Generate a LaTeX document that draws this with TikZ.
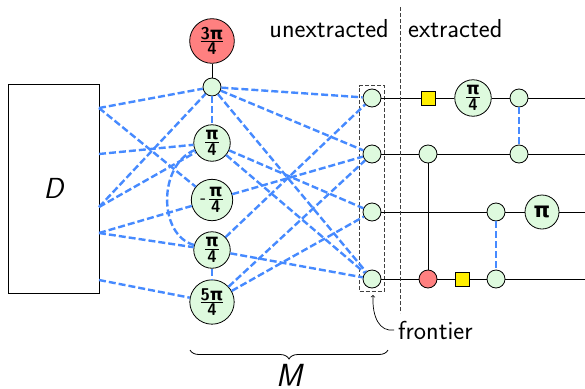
\documentclass[tikz,border=0pt]{standalone}
\usepackage{fontspec}
\usepackage{amsmath}
\newfontfamily\gkfont{DejaVu Sans}
\usetikzlibrary{fit,decorations.pathreplacing}
\definecolor{zgreen}{RGB}{222,250,222}
\definecolor{zred}{RGB}{255,128,128}
\definecolor{zyellow}{RGB}{255,238,0}
\definecolor{zblue}{RGB}{70,138,255}
\newcommand\zpi{{\gkfont\bfseries π}}
\newcommand\zfr[2]{$\genfrac{}{}{1pt}{1}{\mbox{#1}}{\mbox{#2}}$}
\tikzset{
  spider/.style={circle, draw, fill=zgreen, line width=0.8pt, inner sep=2.5pt, minimum size=34pt,
    font=\sffamily\bfseries\fontsize{17}{17}\selectfont},
  zdot/.style={circle, draw, fill=zgreen, line width=0.8pt, minimum size=18pt, inner sep=0pt},
  hbox/.style={draw, fill=zyellow, minimum size=14pt, inner sep=0pt, line width=0.8pt},
  wire/.style={line width=0.8pt},
  bl/.style={draw=zblue, line width=2.4pt, dash pattern=on 7pt off 3pt},
  lab/.style={inner sep=0pt, font=\sffamily\fontsize{26}{26}\selectfont\addfontfeatures{LetterSpace=4}},
  gdash/.style={draw=black!75, line width=0.7pt, dash pattern=on 4pt off 2pt}
}
\begin{document}
\begin{tikzpicture}[x=1pt,y=-1pt]
\useasboundingbox (0,0) rectangle (585,388);
% box D
\node[draw, line width=0.8pt, minimum width=91pt, minimum height=209pt, inner sep=0pt,
  font=\sffamily\itshape\fontsize{29}{29}\selectfont] (D) at (53.5,188.5) {D};
\coordinate (d1) at (99,108);
\coordinate (d2) at (99,154);
\coordinate (d3) at (99,207);
\coordinate (d4) at (99,233);
\coordinate (d5) at (99,280);
% middle spiders
\node[spider, fill=zred] (r) at (212,41) {\zfr{3\zpi}{4}};
\node[zdot] (t) at (212,87) {};
\node[spider] (pa) at (212,143) {\zfr{\zpi}{4}};
\node[spider] (pm) at (212,200) {-\kern1.5pt\zfr{\zpi}{4}};
\node[spider] (pb) at (212,250) {\zfr{\zpi}{4}};
\node[spider] (pc) at (212,302) {\zfr{5\zpi}{4}};
% frontier
\node[zdot] (F1) at (372,98) {};
\node[zdot] (F2) at (372,154) {};
\node[zdot] (F3) at (372,212) {};
\node[zdot] (F4) at (372,279) {};
\node[gdash, fit=(F1)(F4), inner sep=3pt] (fb) {};
% extracted part
\node[hbox] (s1) at (428,98) {};
\node[spider] (pd) at (473,98) {\zfr{\zpi}{4}};
\node[zdot] (n1) at (519,98) {};
\node[zdot] (n2) at (428,154) {};
\node[zdot] (n3) at (519,154) {};
\node[zdot] (n4) at (496,212) {};
\node[spider, font=\bfseries\fontsize{21}{21}\selectfont] (pe) at (542,212) {\zpi};
\node[zdot, fill=zred] (rd) at (428,279) {};
\node[hbox] (s2) at (462,279) {};
\node[zdot] (n5) at (496,279) {};
\coordinate (e1) at (585,98);
\coordinate (e2) at (585,154);
\coordinate (e3) at (585,212);
\coordinate (e4) at (585,279);
% wires
\draw[wire] (r) -- (t);
\draw[wire] (F1) -- (s1) -- (pd) -- (n1) -- (e1);
\draw[wire] (F2) -- (n2) -- (n3) -- (e2);
\draw[wire] (F3) -- (n4) -- (pe) -- (e3);
\draw[wire] (F4) -- (rd) -- (s2) -- (n5) -- (e4);
\draw[wire] (n2) -- (rd);
\draw[bl] (n1) -- (n3);
\draw[bl] (n4) -- (n5);
% blue graph edges
\draw[bl] (d1) -- (t);
\draw[bl] (d1) -- (pm);
\draw[bl] (d2) -- (pa);
\draw[bl] (d3) -- (t);
\draw[bl] (d3) -- (pa);
\draw[bl] (d4) -- (pm);
\draw[bl] (d4) -- (pb);
\draw[bl] (d5) -- (pc);
\draw[bl] (t) -- (pa);
\draw[bl] (t) -- (F1);
\draw[bl] (t) -- (F2);
\draw[bl] (t) -- (F4);
\draw[bl] (pa) -- (F3);
\draw[bl] (pa) -- (F4);
\draw[bl] (pa) .. controls (158,165) and (158,235) .. (pb);
\draw[bl] (pm) -- (F2);
\draw[bl] (pb) -- (F1);
\draw[bl] (pb) -- (F4);
\draw[bl] (pb) -- (pc);
\draw[bl] (pc) -- (F2);
\draw[bl] (pc) -- (F3);
% divider and labels
\coordinate (vt) at (400,7);
\coordinate (vb) at (400,313);
\draw[gdash] (vt) -- (vb);
\node[lab, anchor=base east] (ux) at (389,37) {unextracted};
\node[lab, anchor=base west] (ex) at (408,37) {extracted};
\node[lab, anchor=base west] (fr) at (398,339) {frontier};
\coordinate (farr) at (373,295);
\draw[wire, line width=0.7pt, ->] ([xshift=-4pt]fr.west) .. controls (380,332) and (372,318) .. (farr);
% brace
\coordinate (bl) at (190,350);
\coordinate (br) at (388,350);
\draw[wire, decorate, decoration={brace, amplitude=9pt}] (br) -- (bl);
\node[inner sep=0pt, anchor=base, font=\sffamily\itshape\fontsize{32}{32}\selectfont] (M) at (289,386) {M};
\end{tikzpicture}
\end{document}
